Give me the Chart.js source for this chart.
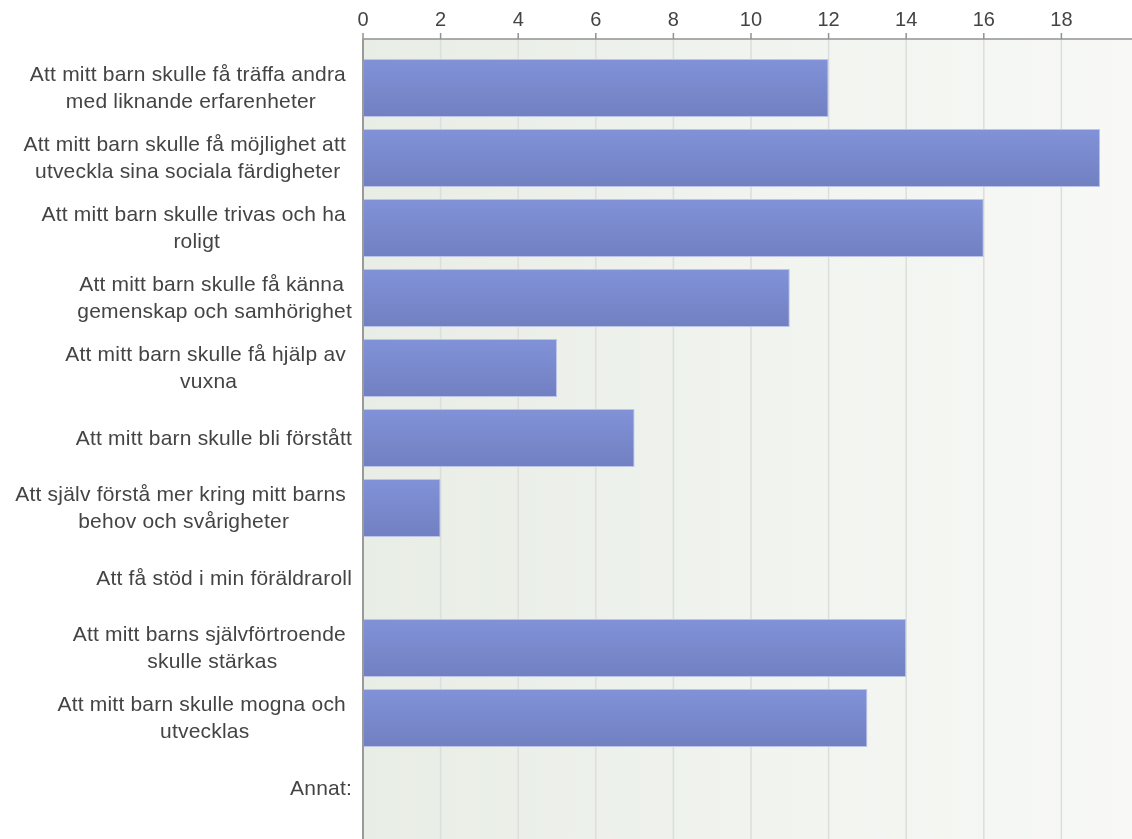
<!DOCTYPE html>
<html>
<head>
<meta charset="utf-8">
<script src="https://cdn.jsdelivr.net/npm/chart.js@4/dist/chart.umd.min.js"></script>
<style>
  body { margin: 0; background: #fff; }
  canvas { display: block; }
</style>
</head>
<body>
<canvas id="survey-chart" width="1132" height="839"></canvas>
<script>
// answers, wrapped the way the original chart wraps them (trailing space kept on line 1)
const categories = [
    ['Att mitt barn skulle få träffa andra ', 'med liknande erfarenheter'],
    ['Att mitt barn skulle få möjlighet att ', 'utveckla sina sociala färdigheter'],
    ['Att mitt barn skulle trivas och ha ', 'roligt'],
    ['Att mitt barn skulle få känna ', 'gemenskap och samhörighet'],
    ['Att mitt barn skulle få hjälp av ', 'vuxna'],
    ['Att mitt barn skulle bli förstått'],
    ['Att själv förstå mer kring mitt barns ', 'behov och svårigheter'],
    ['Att få stöd i min föräldraroll'],
    ['Att mitt barns självförtroende ', 'skulle stärkas'],
    ['Att mitt barn skulle mogna och ', 'utvecklas'],
    ['Annat:']
];
const counts = [12, 19, 16, 11, 5, 7, 2, 0, 14, 13, 0];
const xMax = 19.82;
const xStep = 2;

const FONT = '"Liberation Sans", Arial, sans-serif';

// plot background, grid and axes are drawn a bit above the category band like the original
const frame = {
    id: 'frame',
    beforeDatasetsDraw(chart) {
        const { ctx, chartArea: a, scales: { x } } = chart;
        const top = a.top - 14;
        const bottom = chart.height;
        ctx.save();
        const g = ctx.createLinearGradient(a.left, 0, a.right, 0);
        g.addColorStop(0, 'rgb(232,237,229)');
        g.addColorStop(1, 'rgb(248,249,247)');
        ctx.fillStyle = g;
        ctx.fillRect(a.left, top, a.right - a.left, bottom - top);
        ctx.strokeStyle = '#dcdedb';
        ctx.lineWidth = 1.5;
        x.ticks.forEach(t => {
            if (t.value === 0) return;
            const px = x.getPixelForValue(t.value);
            ctx.beginPath();
            ctx.moveTo(px, top);
            ctx.lineTo(px, bottom);
            ctx.stroke();
        });
        ctx.restore();
    },
    afterDatasetsDraw(chart) {
        const { ctx, chartArea: a, scales: { x, y } } = chart;
        const top = a.top - 14;
        ctx.save();
        // top axis + tick marks
        ctx.strokeStyle = '#929292';
        ctx.lineWidth = 1.5;
        ctx.beginPath();
        ctx.moveTo(a.left, top);
        ctx.lineTo(a.right, top);
        x.ticks.forEach(t => {
            const px = x.getPixelForValue(t.value);
            ctx.moveTo(px, top - 6);
            ctx.lineTo(px, top);
        });
        ctx.stroke();
        // left axis
        ctx.strokeStyle = '#9a9a9a';
        ctx.lineWidth = 2;
        ctx.beginPath();
        ctx.moveTo(a.left, top);
        ctx.lineTo(a.left, chart.height);
        ctx.stroke();

        // category labels: block right aligned, lines centred inside the block
        ctx.font = '21px ' + FONT;
        ctx.letterSpacing = '0.2px';
        ctx.fillStyle = '#444';
        ctx.textAlign = 'center';
        ctx.textBaseline = 'middle';
        const right = a.left - 11;
        categories.forEach((lines, i) => {
            const w = Math.max(...lines.map(l => ctx.measureText(l).width));
            const cx = right - w / 2;
            const cy = y.getPixelForValue(i) + 1;
            lines.forEach((l, j) => {
                ctx.fillText(l, cx, cy + (j - (lines.length - 1) / 2) * 27);
            });
        });
        ctx.restore();
    }
};

const barFill = (context) => {
    const chart = context.chart;
    const yScale = chart.scales.y;
    if (!chart.chartArea || !yScale) return 'rgb(122,137,205)';
    const cy = yScale.getPixelForValue(context.dataIndex);
    const g = chart.ctx.createLinearGradient(0, cy - 29, 0, cy + 29);
    g.addColorStop(0, 'rgb(130,146,216)');
    g.addColorStop(1, 'rgb(113,128,193)');
    return g;
};

const ctx = document.getElementById('survey-chart').getContext('2d');

new Chart(ctx, {
    type: 'bar',
    data: {
        labels: categories,
        datasets: [{
            data: counts,
            backgroundColor: barFill,
            borderColor: 'rgb(188,196,234)',
            borderWidth: 1,
            borderSkipped: 'start',
            categoryPercentage: 1,
            barPercentage: 58 / 70
        }]
    },
    options: {
        indexAxis: 'y',
        responsive: false,
        animation: false,
        devicePixelRatio: 1,
        layout: { padding: { bottom: 16 } },
        plugins: {
            legend: { display: false },
            tooltip: { enabled: false }
        },
        scales: {
            x: {
                position: 'top',
                min: 0,
                max: xMax,
                grid: { display: false, drawTicks: false },
                border: { display: false },
                ticks: {
                    stepSize: xStep,
                    includeBounds: false,
                    padding: 21,
                    color: '#444',
                    font: { family: FONT, size: 20 }
                },
                afterFit: s => { s.height = 53; }
            },
            y: {
                grid: { display: false },
                border: { display: false },
                ticks: { display: false },
                afterFit: s => { s.width = 363; }
            }
        }
    },
    plugins: [frame]
});
</script>
</body>
</html>
